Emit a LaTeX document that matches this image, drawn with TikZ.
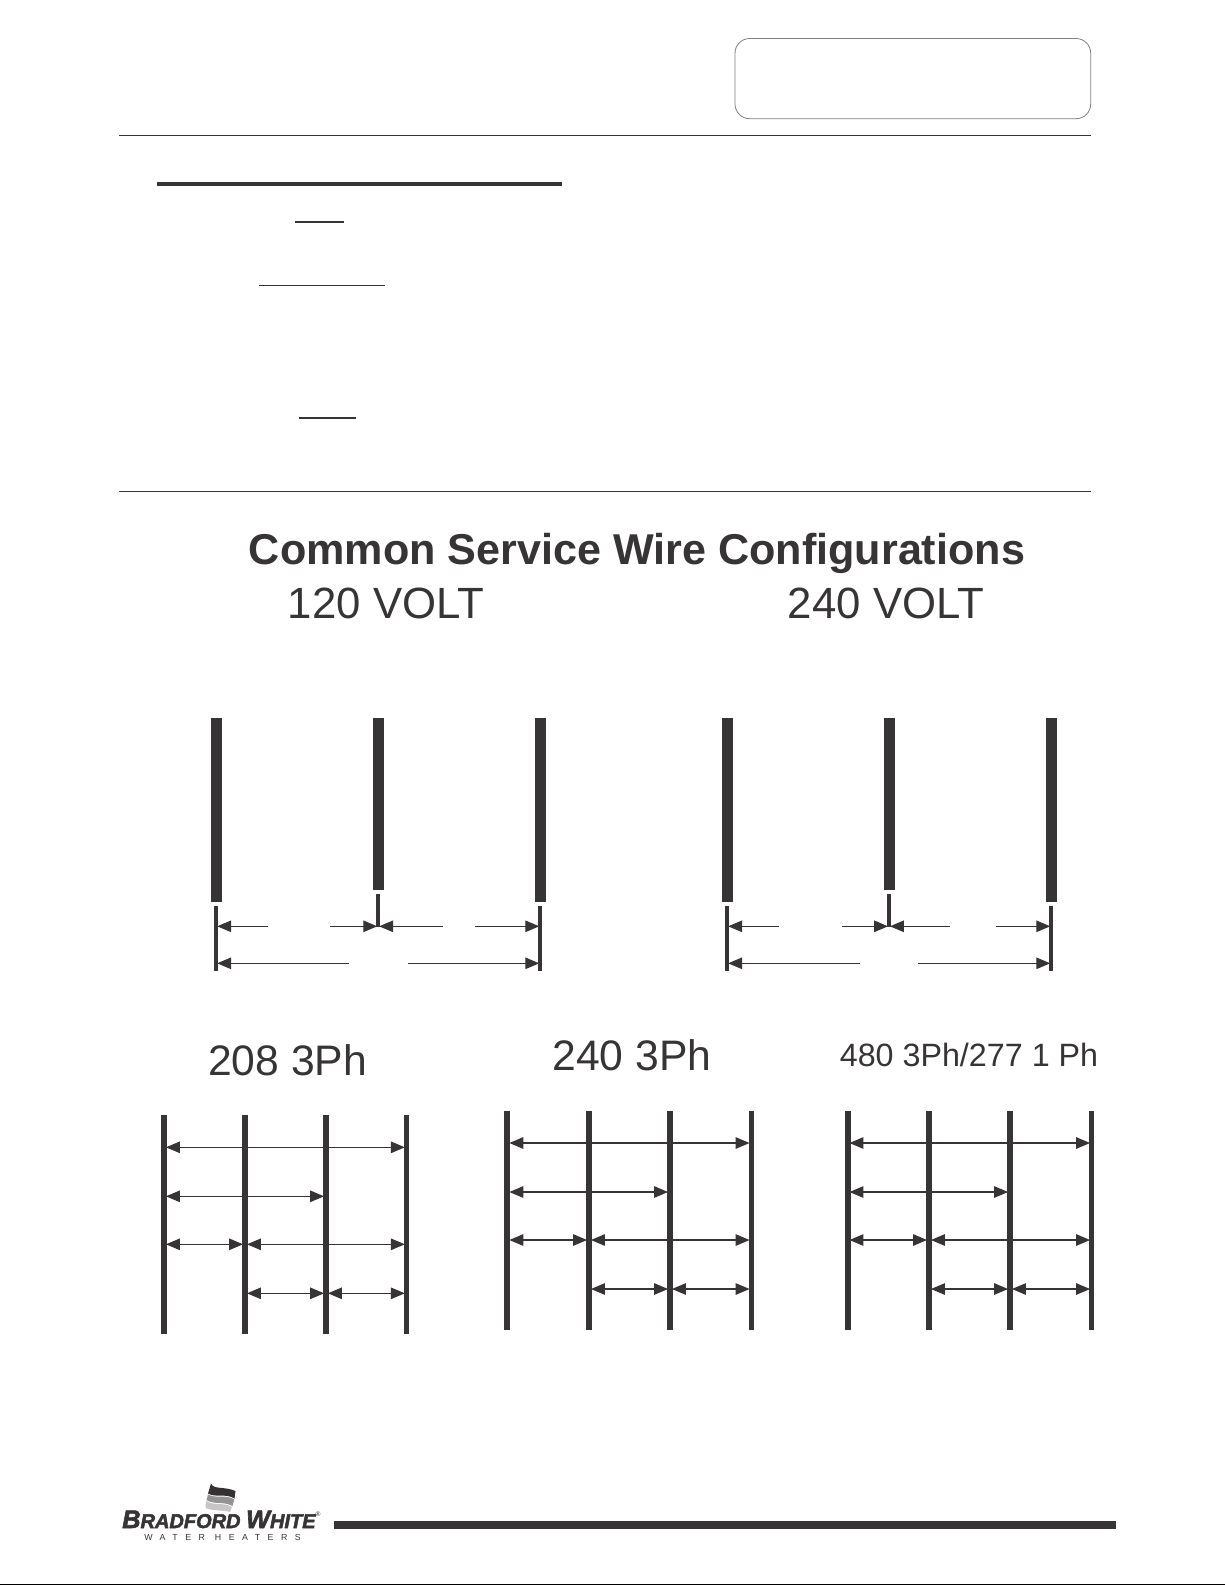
\documentclass[tikz,border=0pt]{standalone}
\usepackage{fontspec}
\setmainfont{Liberation Sans}
\newfontfamily\wmfont[LetterSpace=85]{Liberation Sans}
\newfontfamily\brandfont[FakeBold=2.5]{Liberation Sans}
\usetikzlibrary{arrows.meta,calc}
\definecolor{ink}{HTML}{373435}
\tikzset{
  wirebar/.style={fill=ink,draw=none,inner sep=0pt,outer sep=0pt,rectangle},
  dimtip/.tip={Triangle[length=10.5pt,width=8.6pt]},
  dimline/.style={ink,line width=1pt,shorten <=-0.8pt,shorten >=-0.8pt,dimtip-dimtip},
  dimleft/.style={ink,line width=1pt,shorten <=-0.8pt,dimtip-},
  dimright/.style={ink,line width=1pt,shorten >=-0.8pt,-dimtip},
  rule/.style={ink,line width=1pt},
  head/.style={ink,inner sep=0pt,anchor=center},
}
% px-based wire: name, x, top, bottom, width px
\newcommand{\wirebar}[5]{%
  \node[wirebar,minimum width={(#5)*0.75pt},minimum height={((#4)-(#3))*0.75pt}] (#1) at (#2,{((#3)+(#4))/2}) {};%
}
% single-phase group: prefix, x1, x2, x3, gap coordinates
\newcommand{\singlephase}[9]{%
  \wirebar{#1a}{#2}{718}{902}{11}
  \wirebar{#1b}{#3}{718}{890}{11}
  \wirebar{#1c}{#4}{718}{902}{11}
  \wirebar{#1d}{#2}{906}{971}{4}
  \wirebar{#1e}{#3}{894}{926.5}{4}
  \wirebar{#1f}{#4}{906}{971}{4}
  \coordinate (#1g1) at (#5,926.3);
  \coordinate (#1g2) at (#6,926.3);
  \coordinate (#1g3) at (#7,926.3);
  \coordinate (#1g4) at (#8,926.3);
  \draw[dimleft] (#1d.east |- #1g1) -- (#1g1);
  \draw[dimright] (#1g2) -- (#1e.west |- #1g2);
  \draw[dimleft] (#1e.east |- #1g3) -- (#1g3);
  \draw[dimright] (#1g4) -- (#1f.west |- #1g4);
  \coordinate (#1h1) at (#9,963.3);
}
\newcommand{\threephase}[6]{% prefix, x1..x4, dy
  \wirebar{#1a}{#2}{1115+(#6)}{1334+(#6)}{6}
  \wirebar{#1b}{#3}{1115+(#6)}{1334+(#6)}{6}
  \wirebar{#1c}{#4}{1115+(#6)}{1334+(#6)}{6}
  \wirebar{#1d}{#5}{1115+(#6)}{1334+(#6)}{5}
  \coordinate (#1l1) at (0,1147.3+#6);
  \coordinate (#1l2) at (0,1196.3+#6);
  \coordinate (#1l3) at (0,1244.3+#6);
  \coordinate (#1l4) at (0,1293.3+#6);
  \draw[dimline] (#1a.east |- #1l1) -- (#1d.west |- #1l1);
  \draw[dimline] (#1a.east |- #1l2) -- (#1c.west |- #1l2);
  \draw[dimline] (#1a.east |- #1l3) -- (#1b.west |- #1l3);
  \draw[dimline] (#1b.east |- #1l3) -- (#1d.west |- #1l3);
  \draw[dimline] (#1b.east |- #1l4) -- (#1c.west |- #1l4);
  \draw[dimline] (#1c.east |- #1l4) -- (#1d.west |- #1l4);
}
\begin{document}
\begin{tikzpicture}[x=0.75pt,y=-0.75pt]
\useasboundingbox (0,0) rectangle (1225,1585);
\fill[white] (0,0) rectangle (1225,1585);

% header
\draw[gray,line width=0.6pt,rounded corners=11pt] (735,38.5) rectangle (1090.7,118.7);
\draw[rule] (119,135.7) -- (1091,135.7);
\fill[ink] (156.7,182) rectangle (562,186);
\draw[rule] (295,222) -- (344,222);
\draw[rule] (259,285.5) -- (385,285.5);
\draw[rule] (299,418) -- (356,418);
\draw[rule] (119,491.3) -- (1091,491.3);

% headings
\node[head] (title) at (637,553) {\fontsize{32.35}{36}\selectfont\bfseries Common Service Wire Configurations};
\node[head] (v120) at (386,603.5) {\fontsize{32.8}{36}\selectfont 120 VOLT};
\node[head] (v240) at (886,603.5) {\fontsize{32.8}{36}\selectfont 240 VOLT};
\node[head] (p208) at (287.5,1060) {\fontsize{32}{36}\selectfont 208 3Ph};
\node[head] (p240) at (632,1055) {\fontsize{32}{36}\selectfont 240 3Ph};
\node[head] (p480) at (969,1055) {\fontsize{24.2}{28}\selectfont 480 3Ph/277 1 Ph};

% single-phase groups
\singlephase{l}{216.2}{378.2}{540.2}{268}{330}{443}{475}{349}
\coordinate (lh2) at (408,963.3);
\draw[dimleft] (ld.east |- lh1) -- (lh1);
\draw[dimright] (lh2) -- (lf.west |- lh2);
\singlephase{r}{727.2}{889}{1051.2}{779}{842}{950}{995.6}{860}
\coordinate (rh2) at (918,963.3);
\draw[dimleft] (rd.east |- rh1) -- (rh1);
\draw[dimright] (rh2) -- (rf.west |- rh2);

% three-phase groups
\threephase{a}{164}{245}{326}{406.3}{0}
\threephase{b}{507.4}{589}{670}{751}{-4.3}
\threephase{c}{847.5}{929}{1010}{1091.5}{-4.3}

% logo
\fill[ink!95!black] (211,1483.5) .. controls (214,1490) and (224,1486) .. (235.5,1491) -- (234.5,1498.5) .. controls (226,1493) and (216,1498) .. (208,1493.5) -- cycle;
\fill[gray!85] (208,1494.5) .. controls (216,1499) and (226,1494) .. (234.3,1499.5) -- (232.5,1506) .. controls (224,1501) and (214,1505) .. (206.5,1500) -- cycle;
\fill[gray!45] (206,1501) .. controls (214,1506) and (224,1502) .. (232,1507) -- (230,1512) .. controls (224,1510) and (212,1511) .. (205.5,1508) -- cycle;
\node[inner sep=0pt,anchor=base west,ink] (brand) at (122,1528) {\brandfont\bfseries\itshape\fontsize{19}{20}\selectfont B\fontsize{15}{20}\selectfont RADFORD \fontsize{19}{20}\selectfont W\fontsize{15}{20}\selectfont HITE};
\node[inner sep=0pt,ink] (reg) at (318,1514) {\fontsize{5}{5}\selectfont ®};
\node[inner sep=0pt,ink] (maker) at (222.5,1537.5) {\wmfont\fontsize{6.6}{8}\selectfont WATER HEATERS};
\fill[ink] (334,1521) rectangle (1116,1529);

% page foot
\fill[black] (0,1583.5) rectangle (1225,1585);
\end{tikzpicture}
\end{document}
